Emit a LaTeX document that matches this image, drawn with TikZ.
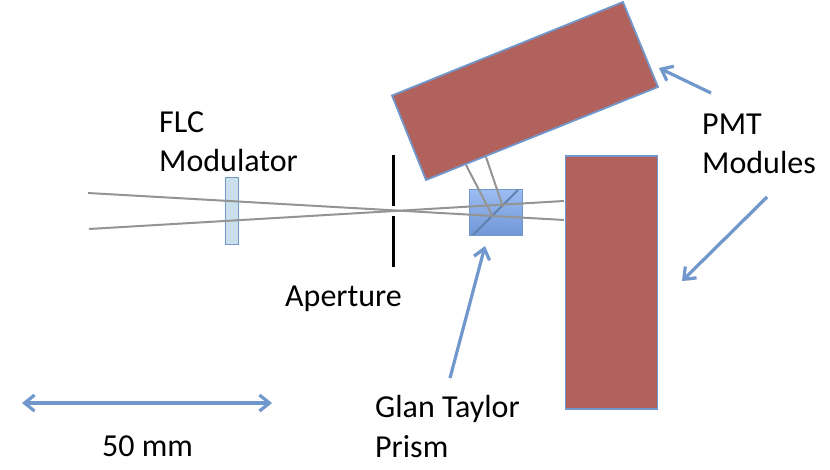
\documentclass[tikz,border=0pt]{standalone}
\usepackage{fontspec}
\setmainfont{Carlito}
\usetikzlibrary{arrows.meta,calc}
\definecolor{edgeblue}{HTML}{7098CC}
\definecolor{pmtred}{HTML}{B2625D}
\definecolor{beamgray}{HTML}{949494}
\definecolor{modfill}{HTML}{C9E0EA}
\definecolor{prismtop}{HTML}{9DBDF2}
\definecolor{prismbot}{HTML}{6F96D6}
\tikzset{
  x=1pt,y=-1pt,
  softshadow/.style={preaction={draw=black,draw opacity=.16,transform canvas={shift={(0.6pt,-1.6pt)}}}},
  pmt/.style={draw=edgeblue,line width=1.8pt,fill=pmtred},
  beam/.style={draw=beamgray,line width=2pt},
  pointer/.style={softshadow,draw=edgeblue,line width=3.2pt,-{Straight Barb[length=10pt,width=16pt,line width=3.2pt]}},
  scalebar/.style={softshadow,draw=edgeblue,line width=3.2pt,{Straight Barb[length=10pt,width=16pt,line width=3.2pt]}-{Straight Barb[length=10pt,width=16pt,line width=3.2pt]}},
  label/.style={inner sep=0pt,align=left,font=\fontsize{32}{38}\selectfont,text=black,anchor=west},
  stop/.style={draw=black,line width=3.2pt},
}
\begin{document}
\begin{tikzpicture}
\useasboundingbox (0,0) rectangle (830,470);
% PMT modules
\coordinate (ta) at (392,95.5);
\coordinate (tb) at (623,2);
\coordinate (tc) at (658,87);
\coordinate (td) at (426,180);
\draw[pmt] (ta) -- (tb) -- (tc) -- (td) -- cycle;
\node[pmt,minimum width=92pt,minimum height=253pt,inner sep=0pt,anchor=north west] (pmtv) at (564.5,155) {};
% Prism
\node[draw=edgeblue,line width=1pt,top color=prismtop,bottom color=prismbot,minimum width=53pt,minimum height=46pt,inner sep=0pt,anchor=north west] (prism) at (469,189) {};
\coordinate (da) at (473,235);
\coordinate (db) at (518,190);
\draw[draw=edgeblue!85!black,line width=2pt] (da) -- (db);
% Modulator
\node[draw=edgeblue,line width=1.2pt,fill=modfill,minimum width=13pt,minimum height=67pt,inner sep=0pt,anchor=north west] (mod) at (225,177) {};
% Beams
\coordinate (b1a) at (88,193);
\coordinate (b1b) at (564,220);
\coordinate (b2a) at (89,229);
\coordinate (b2b) at (564,201);
\draw[beam] (b1a) -- (b1b);
\draw[beam] (b2a) -- (b2b);
\coordinate (r1a) at (466,165);
\coordinate (r1b) at (492,215);
\coordinate (r2a) at (486,157);
\coordinate (r2b) at (503,207);
\draw[beam] (r1a) -- (r1b);
\draw[beam] (r2a) -- (r2b);
% Aperture
\coordinate (s1a) at (393.5,155);
\coordinate (s1b) at (393.5,206);
\coordinate (s2a) at (393.5,216);
\coordinate (s2b) at (393.5,267);
\draw[stop] (s1a) -- (s1b);
\draw[stop] (s2a) -- (s2b);
% Labels
\node[label] (flc) at (159,122) {FLC};
\node[label] (modl) at (159,161) {Modulator};
\node[label] (ap) at (285,299) {Aperture};
\node[label] (pmt1) at (702,124) {PMT};
\node[label] (pmt2) at (702,163) {Modules};
\node[label] (glan) at (375,409) {Glan Taylor};
\node[label] (pris) at (375,447) {Prism};
\node[label] (mm) at (102,446) {50 mm};
% Pointers
\coordinate (p1s) at (711,93);
\coordinate (p1e) at (659,68);
\coordinate (p2s) at (767,197);
\coordinate (p2e) at (682,281);
\coordinate (p3s) at (450,378);
\coordinate (p3e) at (485,246);
\coordinate (sa) at (22,403);
\coordinate (sb) at (272,403);
\draw[pointer] (p1s) -- (p1e);
\draw[pointer] (p2s) -- (p2e);
\draw[pointer] (p3s) -- (p3e);
\draw[scalebar] (sa) -- (sb);
\end{tikzpicture}
\end{document}
